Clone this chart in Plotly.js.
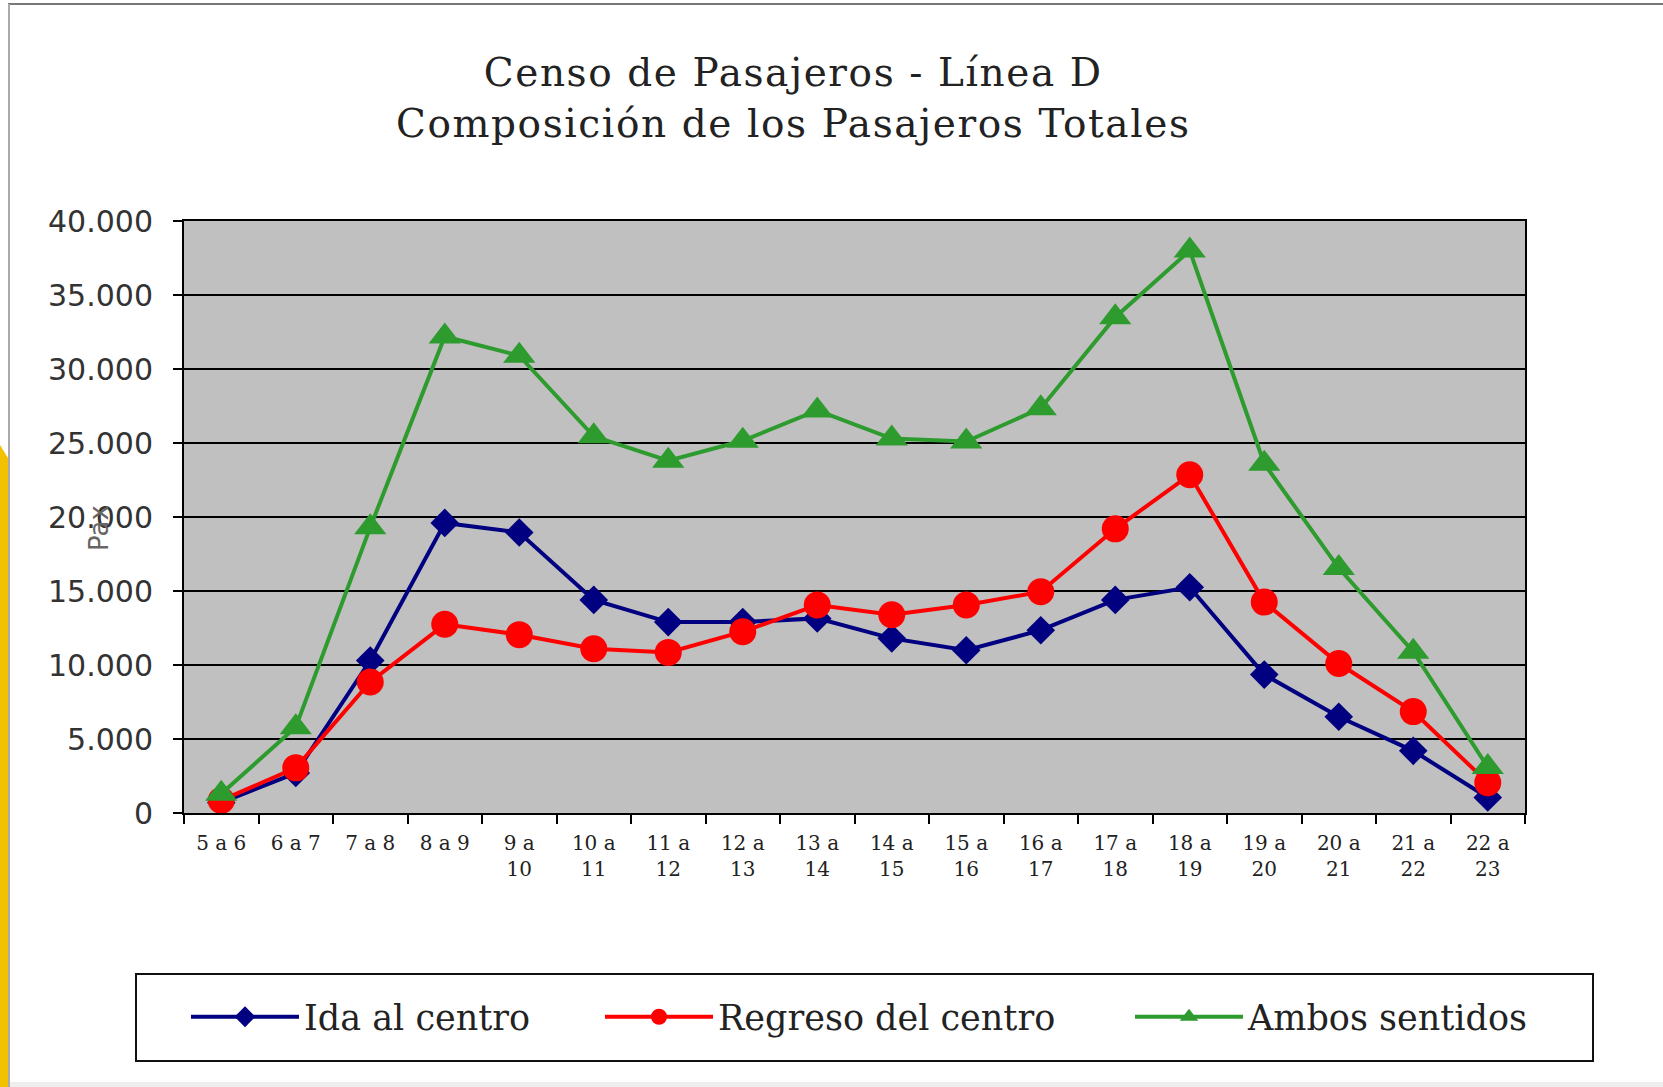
<!DOCTYPE html>
<html>
<head>
<meta charset="utf-8">
<script src="https://cdn.plot.ly/plotly-3.0.1.min.js"></script>
<style>
  html, body { margin: 0; padding: 0; background: #ffffff; }
  #chart { width: 1663px; height: 1087px; }
  #chart .gtitle { letter-spacing: 1.6px; }
</style>
</head>
<body>
<div id="chart"></div>
<script>
// ---- Data ----
var franjas = ['5 a 6', '6 a 7', '7 a 8', '8 a 9', '9 a 10', '10 a 11', '11 a 12', '12 a 13', '13 a 14',
               '14 a 15', '15 a 16', '16 a 17', '17 a 18', '18 a 19', '19 a 20', '20 a 21', '21 a 22', '22 a 23'];
var etiquetas = ['5 a 6', '6 a 7', '7 a 8', '8 a 9', '9 a<br>10', '10 a<br>11', '11 a<br>12', '12 a<br>13', '13 a<br>14',
                 '14 a<br>15', '15 a<br>16', '16 a<br>17', '17 a<br>18', '18 a<br>19', '19 a<br>20', '20 a<br>21', '21 a<br>22', '22 a<br>23'];
var idaAlCentro = [700, 2700, 10300, 19600, 18950, 14400, 12900, 12900, 13150, 11800, 11000, 12350, 14400, 15250, 9350, 6500, 4200, 1050];
var regresoDelCentro = [850, 3050, 8850, 12750, 12050, 11100, 10850, 12250, 14050, 13400, 14050, 14950, 19200, 22850, 14250, 10100, 6850, 2050];
var ambosSentidos = [1300, 5800, 19300, 32200, 30900, 25450, 23800, 25150, 27200, 25300, 25100, 27350, 33500, 38000, 23600, 16550, 10900, 3100];
var nombres = ['Ida al centro', 'Regreso del centro', 'Ambos sentidos'];

// ---- Layout geometry (pixels) ----
var W = 1663, H = 1087;
var M = {l: 184, r: 138, t: 221, b: 274};
var PW = W - M.l - M.r, PH = H - M.t - M.b;
function px(x) { return (x - M.l) / PW; }
function py(y) { return (H - M.b - y) / PH; }

var serif = 'DejaVu Serif, Liberation Serif, serif';
var sans = 'DejaVu Sans, Verdana, sans-serif';

var traces = [
  {
    x: franjas, y: idaAlCentro, name: nombres[0], type: 'scatter', mode: 'lines+markers', legend: 'legend',
    line: {color: '#000080', width: 4},
    marker: {symbol: 'diamond', size: 22, color: '#000080'}
  },
  {
    x: franjas, y: regresoDelCentro, name: nombres[1], type: 'scatter', mode: 'lines+markers', legend: 'legend2',
    line: {color: '#FF0000', width: 4},
    marker: {symbol: 'circle', size: 27, color: '#FF0000'}
  },
  {
    x: franjas, y: ambosSentidos, name: nombres[2], type: 'scatter', mode: 'lines+markers', legend: 'legend3',
    line: {color: '#2E9B2E', width: 4},
    marker: {symbol: 'triangle-up', size: 28, color: '#2E9B2E'}
  }
];

function legendAt(xpx) {
  return {
    orientation: 'h',
    x: px(xpx), xanchor: 'left',
    y: py(1017), yanchor: 'middle',
    xref: 'paper', yref: 'paper',
    font: {family: serif, size: 35, color: '#222222'},
    bgcolor: 'rgba(0,0,0,0)', borderwidth: 0,
    itemwidth: 108
  };
}

var layout = {
  width: W, height: H,
  margin: M,
  paper_bgcolor: '#ffffff',
  plot_bgcolor: '#C0C0C0',
  separators: ',.',
  showlegend: true,
  title: {
    text: 'Censo de Pasajeros - Línea D<br>Composición de los Pasajeros Totales',
    font: {family: serif, size: 39, color: '#222222'},
    xref: 'container', x: 0.477, xanchor: 'center',
    yref: 'container', y: 1 - 86 / H, yanchor: 'middle'
  },
  xaxis: {
    type: 'category',
    tickmode: 'array', tickvals: franjas, ticktext: etiquetas,
    range: [-0.5, franjas.length - 0.5],
    tickson: 'boundaries',
    ticks: 'outside', ticklen: 9, tickwidth: 2, tickcolor: '#000',
    showline: true, linecolor: '#000', linewidth: 2, mirror: true,
    showgrid: false, zeroline: false,
    tickfont: {family: serif, size: 20, color: '#222222'},
    ticklabelstandoff: 11,
    tickangle: 0,
    fixedrange: true
  },
  yaxis: {
    range: [0, 40000], dtick: 5000, tick0: 0,
    tickformat: ',d',
    ticks: 'outside', ticklen: 9, tickwidth: 2, tickcolor: '#000',
    showline: true, linecolor: '#000', linewidth: 2, mirror: true,
    showgrid: true, gridcolor: '#000', gridwidth: 2,
    zeroline: false,
    tickfont: {family: sans, size: 30, color: '#333333'},
    ticklabelstandoff: 14,
    fixedrange: true
  },
  legend: legendAt(186),
  legend2: legendAt(600),
  legend3: legendAt(1130),
  annotations: [
    {
      text: 'Pax', xref: 'paper', yref: 'paper', x: px(99), y: py(528),
      xanchor: 'center', yanchor: 'middle', textangle: -90, showarrow: false,
      font: {family: sans, size: 26, color: '#666666'}
    }
  ],
  shapes: [
    // legend frame
    {type: 'rect', xref: 'paper', yref: 'paper', x0: px(136), x1: px(1593), y0: py(974), y1: py(1061),
     line: {color: '#111', width: 2}, fillcolor: 'rgba(0,0,0,0)', layer: 'below'},
    // slide frame lines
    {type: 'line', xref: 'paper', yref: 'paper', x0: px(8), x1: px(1663), y0: py(4), y1: py(4),
     line: {color: '#777', width: 2}},
    {type: 'line', xref: 'paper', yref: 'paper', x0: px(9), x1: px(9), y0: py(4), y1: py(1087),
     line: {color: '#aaa', width: 2}},
    // yellow slide accent on the left
    {type: 'path', xref: 'paper', yref: 'paper',
     path: 'M' + px(0) + ',' + py(445) + ' L' + px(8) + ',' + py(458) + ' L' + px(8) + ',' + py(1087) + ' L' + px(0) + ',' + py(1087) + ' Z',
     fillcolor: '#F2C200', line: {width: 0}},
    // light strip at bottom
    {type: 'rect', xref: 'paper', yref: 'paper', x0: px(10), x1: px(1663), y0: py(1082), y1: py(1087),
     fillcolor: '#EEEEEE', line: {width: 0}}
  ]
};

Plotly.newPlot('chart', traces, layout, {displayModeBar: false, responsive: false});
</script>
</body>
</html>
